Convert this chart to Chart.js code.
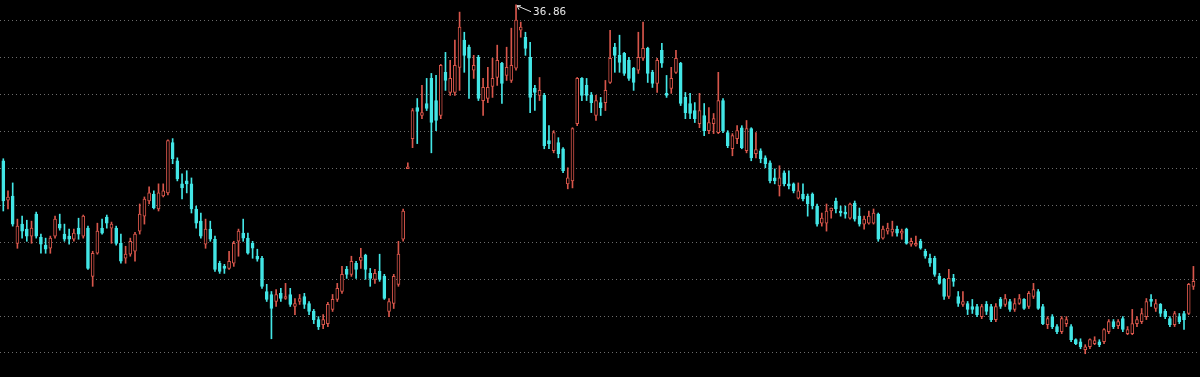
<!DOCTYPE html>
<html>
<head>
<meta charset="utf-8">
<title>K线图</title>
<script src="https://cdn.jsdelivr.net/npm/chart.js@4.4.0/dist/chart.umd.min.js"></script>
<style>
  html, body { margin: 0; padding: 0; background: #000; }
  #wrap { position: relative; width: 1200px; height: 377px; }
</style>
</head>
<body>
<div id="wrap"><canvas id="kChart"></canvas></div>
<script>
// 日K线数据 (开, 高, 低, 收)
const opens = [
  28.41, 26.28, 26.50, 23.94, 24.98, 24.71, 24.33, 25.52, 24.27, 23.84, 23.67, 24.33, 24.98, 24.44, 24.33, 24.16, 24.76, 24.33, 24.76, 22.15, 23.40, 24.76,
  25.36, 24.76, 24.76, 23.94, 23.13, 23.35, 23.51, 24.60, 25.41, 26.23, 26.61, 25.80, 26.50, 26.67, 29.39, 28.41, 27.16, 27.32, 27.16, 25.80, 25.14,
  23.89, 24.71, 24.16, 22.86, 22.69, 22.58, 22.86, 24.05, 24.49, 24.22, 23.94, 23.24, 23.13, 21.33, 21.17, 20.79, 21.23, 20.95, 21.17, 20.52, 20.79,
  21.06, 20.68, 20.25, 19.81, 19.54, 19.59, 20.36, 20.90, 21.33, 22.53, 22.26, 22.86, 23.02, 23.29, 22.31, 21.99, 22.42, 22.15, 20.25, 20.68, 21.72, 24.16, 27.98,
  29.61, 31.29, 30.86, 31.51, 32.87, 31.67, 30.86, 33.20, 32.11, 32.11, 33.47, 34.94, 34.56, 33.31, 34.01, 31.67, 31.78,
  32.44, 32.92, 33.69, 33.03, 32.76, 33.42, 35.48, 35.10, 34.01, 32.33, 31.95, 31.95, 29.50, 28.95, 29.39, 29.06, 27.16, 27.32, 30.42, 32.87,
  32.49, 31.95, 30.86, 31.56, 31.56, 32.65, 34.56, 34.12, 34.23, 33.85, 33.42, 33.31, 33.96, 34.50, 33.20, 32.60, 34.39, 32.06, 32.33, 33.20, 33.69,
  31.84, 31.51, 31.13, 30.42, 30.86, 30.04, 30.42, 29.93, 31.67, 29.93, 29.06, 29.61, 30.20, 28.95, 30.15, 28.79, 28.95, 28.57, 28.30, 27.48, 27.05, 27.76, 27.16, 27.16, 26.39,
  26.61, 26.50, 26.61, 25.96, 25.03, 25.03, 25.69, 26.23, 25.69, 25.63, 25.30, 26.12, 25.41, 24.98, 25.03, 25.03, 25.52, 24.22, 24.60, 24.54, 24.71, 24.49,
  24.71, 23.89, 23.84, 24.05, 23.51, 23.13, 23.13, 22.15, 21.99, 21.06, 22.04, 21.06, 20.63, 20.68, 20.52, 20.52, 19.97, 20.63, 20.52, 19.81, 20.90, 20.63, 20.79,
  20.36, 20.68, 20.90, 20.52, 21.06, 21.33, 20.52, 19.54, 19.97, 19.43, 19.16, 19.59, 19.43, 18.72, 18.61, 18.18, 18.34, 18.50, 18.61, 18.61,
  19.16, 19.70, 19.48, 19.86, 19.05, 19.05, 19.59, 19.70, 19.97, 20.90, 20.41, 20.63, 20.25, 19.86, 19.54, 19.97, 20.14, 20.14, 21.61
];
const highs = [
  28.52, 26.78, 27.21, 25.25, 25.41, 25.19, 25.14, 25.63, 24.44, 24.22, 24.33, 25.41, 25.52, 24.98, 24.71, 24.71, 25.30, 25.47, 24.87, 23.51, 25.03, 25.25,
  25.47, 25.09, 24.87, 24.44, 23.78, 24.22, 24.54, 26.07, 26.45, 27.00, 26.78, 27.16, 27.16, 29.55, 29.61, 28.57, 27.70, 27.87, 27.48, 25.96, 25.58,
  25.25, 25.14, 24.33, 22.97, 22.80, 23.51, 24.05, 24.71, 25.25, 24.49, 24.05, 23.62, 23.24, 21.72, 21.33, 21.44, 21.50, 21.77, 21.50, 20.95, 21.17,
  21.23, 20.79, 20.36, 19.97, 20.08, 20.74, 21.17, 21.77, 22.69, 22.69, 23.24, 22.97, 23.67, 23.35, 22.58, 22.53, 23.35, 22.26, 20.95, 22.26, 24.05, 25.80, 28.30,
  31.24, 31.78, 32.49, 32.87, 33.14, 33.03, 33.63, 34.28, 33.85, 34.94, 36.46, 35.37, 34.67, 34.12, 34.12, 32.87, 33.47,
  33.96, 34.67, 33.74, 34.56, 35.59, 36.86, 35.92, 35.37, 34.83, 32.49, 32.92, 32.06, 30.31, 30.04, 29.66, 29.12, 28.03, 30.20, 32.92, 32.92,
  32.87, 32.11, 31.95, 31.84, 32.76, 35.48, 34.77, 35.21, 34.28, 34.01, 33.47, 35.37, 35.92, 34.56, 33.31, 33.96, 34.77, 33.03, 33.47, 34.39, 33.74,
  32.11, 32.06, 31.56, 32.06, 31.51, 31.29, 30.97, 33.20, 31.78, 30.04, 29.88, 30.31, 30.31, 30.59, 30.20, 29.93, 29.06, 28.68, 28.41, 27.97, 28.14, 27.87, 27.87, 27.21, 27.21,
  27.16, 26.61, 26.67, 26.07, 25.58, 26.07, 25.85, 26.39, 25.96, 25.96, 26.12, 26.23, 25.85, 25.41, 25.69, 25.80, 25.58, 24.87, 25.03, 25.14, 24.87, 24.71,
  24.76, 24.22, 24.33, 24.16, 23.62, 23.35, 23.24, 22.31, 22.04, 22.53, 22.26, 21.33, 21.33, 20.79, 20.90, 20.63, 20.63, 20.79, 20.63, 20.68, 21.01, 21.17, 20.90,
  20.95, 21.17, 20.95, 21.33, 21.77, 21.44, 20.63, 19.97, 20.08, 19.54, 19.97, 19.97, 19.54, 18.77, 18.77, 18.45, 18.77, 18.88, 18.72, 19.32,
  19.81, 19.81, 19.81, 19.97, 19.43, 20.36, 19.97, 20.41, 20.95, 21.17, 20.90, 20.68, 20.36, 19.97, 20.25, 20.14, 20.25, 21.77, 22.69
];
const lows = [
  25.69, 25.80, 24.87, 23.67, 24.22, 24.05, 23.94, 24.22, 23.40, 23.40, 23.40, 24.22, 24.65, 24.05, 23.89, 24.05, 24.16, 24.22, 22.53, 21.61, 23.35, 24.44,
  24.76, 23.94, 23.84, 22.86, 22.86, 23.24, 22.97, 24.44, 24.98, 26.07, 25.80, 25.69, 26.45, 26.56, 28.25, 27.32, 26.34, 26.67, 25.58, 24.76, 24.22,
  23.67, 24.05, 22.42, 22.31, 22.31, 22.53, 22.69, 23.24, 24.05, 23.35, 23.13, 22.97, 21.50, 20.79, 18.77, 20.52, 20.79, 20.90, 20.52, 20.08, 20.63,
  20.41, 20.08, 19.59, 19.27, 19.32, 19.43, 20.25, 20.79, 21.23, 22.04, 22.15, 22.04, 22.58, 21.99, 21.61, 21.77, 21.88, 20.90, 19.97, 20.41, 21.61, 24.05, 27.98,
  29.12, 29.34, 30.69, 31.13, 28.84, 30.04, 30.69, 32.22, 31.95, 31.95, 32.22, 33.20, 31.78, 32.87, 31.67, 30.86, 31.56,
  31.84, 32.49, 31.51, 32.76, 32.65, 33.31, 35.10, 34.12, 31.02, 31.13, 31.67, 29.06, 29.06, 28.84, 28.57, 27.76, 26.89, 26.94, 30.31, 31.67,
  31.67, 31.02, 30.59, 30.86, 31.13, 32.60, 33.20, 33.20, 33.03, 32.76, 32.22, 33.14, 33.85, 32.65, 32.38, 32.11, 33.47, 31.84, 32.06, 33.14, 31.40,
  30.69, 30.69, 30.48, 30.20, 29.77, 29.88, 29.88, 29.88, 29.93, 29.12, 28.68, 29.34, 29.06, 28.84, 28.41, 28.57, 28.30, 28.03, 27.21, 27.16, 26.50, 27.05, 26.89, 26.67, 26.34,
  26.23, 25.41, 25.80, 24.87, 24.87, 24.60, 25.30, 25.58, 25.41, 25.30, 25.25, 25.14, 24.87, 24.71, 24.98, 24.98, 24.05, 24.16, 24.44, 24.33, 24.33, 24.16,
  23.89, 23.78, 23.78, 23.62, 23.13, 22.69, 22.15, 21.72, 20.90, 20.95, 21.61, 20.52, 20.52, 20.08, 20.14, 19.97, 19.86, 20.08, 19.70, 19.70, 20.41, 20.52, 20.25,
  20.25, 20.63, 20.36, 20.41, 20.95, 20.36, 19.54, 19.32, 19.32, 19.05, 19.05, 19.43, 18.61, 18.45, 18.23, 17.96, 18.23, 18.45, 18.34, 18.50,
  19.05, 19.32, 19.32, 19.16, 18.99, 18.99, 19.43, 19.59, 19.81, 20.52, 20.25, 19.97, 19.86, 19.43, 19.43, 19.59, 19.27, 20.08, 21.44
];
const closes = [
  26.23, 26.45, 24.98, 24.87, 24.60, 24.33, 24.76, 24.33, 23.89, 23.62, 24.22, 25.25, 24.76, 24.16, 24.16, 24.49, 24.44, 25.41, 22.58, 23.40, 24.60, 24.49,
  25.03, 24.98, 23.94, 22.97, 23.35, 24.05, 24.44, 25.52, 26.34, 26.67, 25.85, 26.67, 26.78, 29.50, 28.52, 27.43, 26.94, 27.16, 25.80, 25.03, 24.33,
  24.71, 24.16, 22.53, 22.42, 22.58, 22.97, 23.94, 24.60, 24.22, 23.40, 23.67, 23.08, 21.61, 20.90, 20.41, 21.17, 20.95, 21.06, 20.63, 20.68, 20.95,
  20.63, 20.25, 19.81, 19.43, 19.81, 20.63, 20.90, 21.50, 22.26, 22.26, 22.97, 22.53, 23.19, 22.53, 22.04, 22.31, 21.99, 20.95, 20.79, 22.15, 23.35, 25.69, 28.08,
  31.13, 31.08, 31.02, 31.24, 30.48, 30.59, 33.58, 32.76, 32.87, 33.58, 35.65, 34.12, 33.96, 33.58, 31.78, 32.38, 32.38,
  32.87, 33.85, 32.60, 33.47, 33.58, 36.03, 35.65, 34.50, 31.84, 32.11, 32.22, 29.23, 29.34, 29.93, 28.79, 27.87, 27.48, 30.15, 32.87, 31.95,
  31.95, 31.56, 31.67, 31.29, 32.22, 33.96, 34.12, 33.74, 33.14, 32.87, 32.65, 34.01, 34.50, 33.14, 32.60, 33.85, 33.69, 31.95, 32.87, 33.96, 31.51,
  31.02, 30.97, 30.69, 31.13, 30.04, 30.48, 30.69, 31.67, 30.04, 29.23, 29.77, 30.04, 29.12, 30.15, 28.57, 29.01, 28.52, 28.25, 27.32, 27.32, 27.48, 27.16, 27.05, 26.78, 26.78,
  26.34, 26.07, 25.96, 24.98, 25.30, 25.69, 25.85, 25.80, 25.58, 25.52, 26.07, 25.25, 24.98, 25.25, 25.41, 25.58, 24.16, 24.71, 24.76, 24.71, 24.49, 24.60,
  23.94, 24.05, 23.94, 23.67, 23.24, 22.86, 22.26, 21.77, 21.06, 22.04, 21.88, 20.68, 20.79, 20.36, 20.36, 20.08, 20.52, 20.25, 19.81, 20.52, 20.52, 20.95, 20.36,
  20.68, 20.95, 20.41, 21.23, 21.44, 20.41, 19.59, 19.86, 19.43, 19.16, 19.86, 19.81, 18.72, 18.50, 18.34, 18.34, 18.72, 18.67, 18.45, 19.27,
  19.70, 19.43, 19.70, 19.27, 19.27, 19.59, 19.81, 20.14, 20.79, 20.79, 20.68, 20.14, 19.97, 19.54, 20.14, 19.70, 19.81, 21.72, 21.88
];
// 价格网格 (每 2 元一条虚线)
const priceMin = 16.70;
const priceMax = 37.116;
const priceStep = 2;

const upColor = "#d8564b";
const downColor = "#43e6e6";
const bgColor = "#000000";

const isUp = opens.map((o, i) => closes[i] >= o);

// 最高价标注 (箭头 + 数值)
const peakLabel = {
  id: "peakLabel",
  afterDatasetsDraw(chart) {
    let idx = 0;
    highs.forEach((h, i) => { if (h > highs[idx]) idx = i; });
    const x = chart.scales.x.getPixelForValue(idx);
    const y = chart.scales.y.getPixelForValue(highs[idx]);
    const ctx = chart.ctx;
    ctx.save();
    ctx.strokeStyle = "#e6e6e6";
    ctx.fillStyle = "#e6e6e6";
    ctx.lineWidth = 1;
    ctx.beginPath();
    ctx.moveTo(x + 1, y + 1);
    ctx.lineTo(x + 15, y + 7);
    ctx.moveTo(x + 1, y + 1);
    ctx.lineTo(x + 5, y + 1);
    ctx.moveTo(x + 1, y + 1);
    ctx.lineTo(x + 3, y + 5);
    ctx.stroke();
    ctx.font = '11px "DejaVu Sans Mono"';
    ctx.textBaseline = "middle";
    ctx.fillText(highs[idx].toFixed(2), x + 17, y + 7);
    ctx.restore();
  },
};

const ctx = document.getElementById("kChart").getContext("2d");
new Chart(ctx, {
  type: "bar",
  data: {
    datasets: [
      {
        // 实体
        label: "body",
        order: 1,
        data: opens.map((o, i) => ({ x: i, y: [o, closes[i]] })),
        backgroundColor: isUp.map((u) => (u ? bgColor : downColor)),
        borderColor: isUp.map((u) => (u ? upColor : downColor)),
        borderWidth: 1,
        borderSkipped: false,
        barThickness: 3,
        minBarLength: 1,
        grouped: false,
      },
      {
        // 影线
        label: "wick",
        order: 2,
        data: lows.map((l, i) => ({ x: i, y: [l, highs[i]] })),
        backgroundColor: isUp.map((u) => (u ? upColor : downColor)),
        borderWidth: 0,
        barThickness: 1,
        grouped: false,
      },
    ],
  },
  options: {
    responsive: true,
    maintainAspectRatio: false,
    animation: false,
    layout: { padding: 0 },
    plugins: { legend: { display: false }, tooltip: { enabled: false } },
    scales: {
      x: {
        type: "linear",
        offset: false,
        min: -0.7,
        max: opens.length + 0.4,
        display: false,
      },
      y: {
        min: priceMin,
        max: priceMax,
        ticks: { display: false, stepSize: priceStep, includeBounds: false },
        grid: { color: "rgba(120,120,120,0.9)", drawTicks: false, lineWidth: 1 },
        border: { display: false, dash: [1, 3] },
        afterFit: (s) => { s.width = 0; },
      },
    },
  },
  plugins: [peakLabel],
});
</script>
</body>
</html>
